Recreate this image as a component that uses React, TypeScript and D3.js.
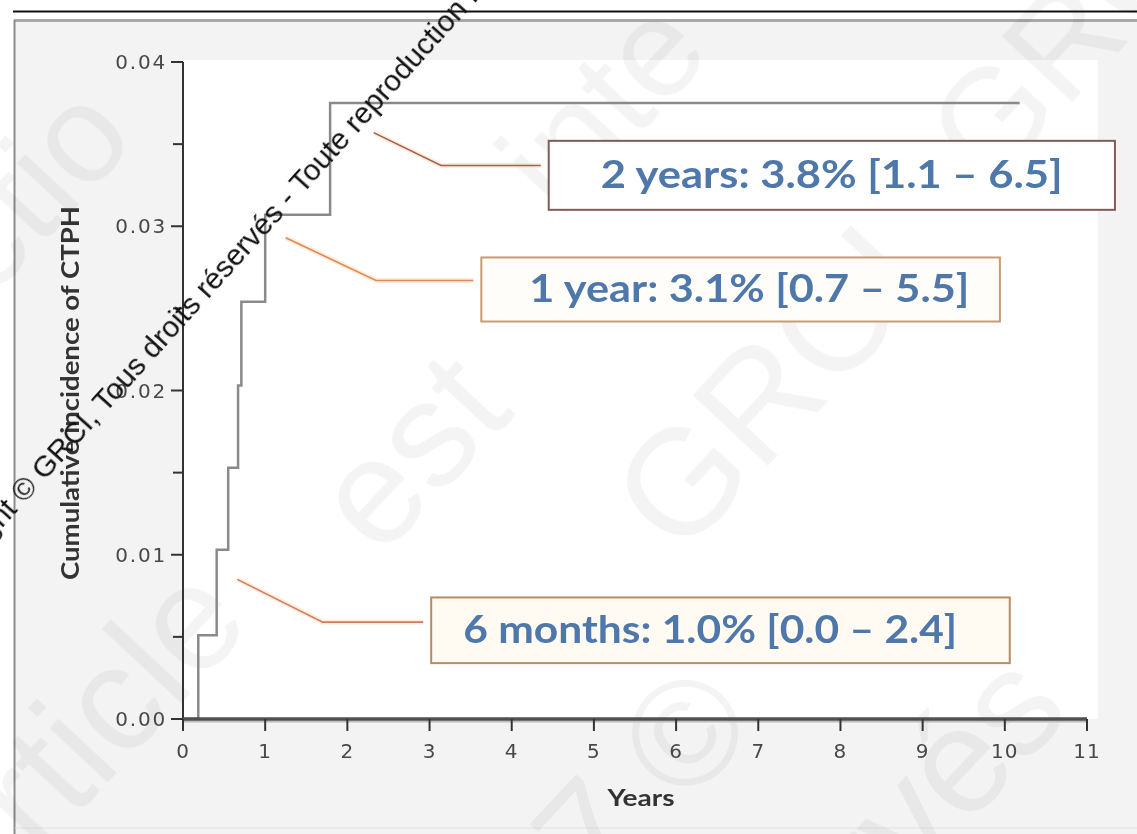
import React, { useEffect } from "react";
import * as d3 from "d3";

// ---------- data ----------
const eventTimes = [0, 0.186, 0.41, 0.55, 0.67, 0.71, 1.0, 1.79, 10.18];
const cumIncidence = [0, 0.0051, 0.0103, 0.0153, 0.0203, 0.0254, 0.0307, 0.0375, 0.0375];
const xTicks = [0, 1, 2, 3, 4, 5, 6, 7, 8, 9, 10, 11];
const yTicks = [0, 0.01, 0.02, 0.03, 0.04];
const yMinorTicks = [0.005, 0.015, 0.025, 0.035];
const calloutLabels = [
  "2 years: 3.8% [1.1 – 6.5]",
  "1 year: 3.1% [0.7 – 5.5]",
  "6 months: 1.0% [0.0 – 2.4]",
];
const xTitle = "Years";
const yTitle = "Cumulative incidence of CTPH";
const watermarkBefore = "Copyright\u00A0";
const watermarkText = "© GRCI, Tous droits réservés - Toute reproduction interdite";

// ---------- layout (callouts in data units) ----------
const W = 1137;
const H = 834;
const plot = { left: 183, right: 1087, top: 62, bottom: 719 };

const callouts = [
  { point: [2.32, 0.0357], elbow: [3.14, 0.0337], box: [4.45, 11.34, 0.0352, 0.0310], textPad: 52, textW: 462, stroke: "#7f5b5b", lead: "#a4604e", fill: "#ffffff" },
  { point: [1.25, 0.0293], elbow: [2.35, 0.0267], box: [3.63, 9.94, 0.0281, 0.0242], textPad: 48, textW: 440, stroke: "#c79c70", lead: "#e08a55", fill: "#fffdf9" },
  { point: [0.66, 0.0085], elbow: [1.70, 0.0059], box: [3.02, 10.06, 0.0074, 0.0034], textPad: 32, textW: 494, stroke: "#bb8a5e", lead: "#d27c60", fill: "#fffaf2" },
];

const faintMarks = [
  { t: "ctio", x: -10, y: 300, s: 140 },
  { t: "inte", x: 560, y: 220, s: 140 },
  { t: "GRC", x: 990, y: 190, s: 140 },
  { t: "Article", x: -30, y: 930, s: 150 },
  { t: "est", x: 380, y: 560, s: 150 },
  { t: "GRCI", x: 680, y: 560, s: 150 },
  { t: "7 ©", x: 600, y: 900, s: 150 },
  { t: "rvés", x: 880, y: 920, s: 150 },
];

export default function App() {
  useEffect(() => {
    document.body.style.margin = "0";
  }, []);

  const x = d3.scaleLinear().domain([0, 11]).range([plot.left, plot.right]);
  const y = d3.scaleLinear().domain([0, 0.04]).range([plot.bottom, plot.top]);

  const pts: [number, number][] = eventTimes.map((t, i) => [t, cumIncidence[i]]);
  const stepPath = d3
    .line<[number, number]>()
    .x((d) => x(d[0]))
    .y((d) => y(d[1]))
    .curve(d3.curveStepAfter)(pts) as string;

  const angle = -47;
  const wmAngle = -48;
  const tickFont = "'DejaVu Sans', Verdana, sans-serif";

  return (
    <svg width={W} height={H} style={{ display: "block" }} xmlns="http://www.w3.org/2000/svg">
      {/* panel */}
      <rect x={0} y={0} width={W} height={H} fill="#ffffff" />
      <rect x={14} y={20} width={W - 14} height={H - 20} fill="#f3f3f3" />
      <rect x={plot.left} y={60} width={1098 - plot.left} height={plot.bottom - 60} fill="#ffffff" />
      <line x1={13} x2={W} y1={11.5} y2={11.5} stroke="#111" strokeWidth={2} />
      <line x1={14} x2={W} y1={20.5} y2={20.5} stroke="#a8a8a8" strokeWidth={3} />
      <line x1={14.5} x2={14.5} y1={20} y2={H} stroke="#8c8c8c" strokeWidth={2} />
      <line x1={15} x2={W} y1={828} y2={828} stroke="#e2e2e2" strokeWidth={1} />

      {/* faint watermark */}
      <g fontFamily="'Liberation Sans', Arial, sans-serif" fill="#000" opacity={0.045}>
        {faintMarks.map((m, i) => (
          <text key={i} x={m.x} y={m.y} fontSize={m.s} transform={`rotate(${angle} ${m.x} ${m.y})`}>
            {m.t}
          </text>
        ))}
      </g>

      {/* curve */}
      <path d={stepPath} fill="none" stroke="#8a8a8a" strokeWidth={2.5} />

      {/* callouts */}
      {callouts.map((c, i) => {
        const bx0 = x(c.box[0]);
        const bx1 = x(c.box[1]);
        const by0 = y(c.box[2]);
        const by1 = y(c.box[3]);
        const d = `M${x(c.point[0])},${y(c.point[1])}L${x(c.elbow[0])},${y(c.elbow[1])}L${bx0 - 8},${y(c.elbow[1])}`;
        return (
          <g key={i}>
            <path d={d} fill="none" stroke="#ffd9b8" strokeOpacity={0.5} strokeWidth={5} />
            <path d={d} fill="none" stroke={c.lead} strokeWidth={1.6} />
            <rect x={bx0} y={by0} width={bx1 - bx0} height={by1 - by0} fill={c.fill} stroke={c.stroke} strokeWidth={2} />
            <text
              x={bx0 + c.textPad}
              y={(by0 + by1) / 2 + 13}
              fontFamily="Lato, 'Open Sans', sans-serif"
              fontWeight={700}
              fontSize={38}
              fill="#4e77aa"
              textLength={c.textW}
              lengthAdjust="spacingAndGlyphs"
            >
              {calloutLabels[i]}
            </text>
          </g>
        );
      })}

      {/* y axis */}
      <line x1={plot.left} x2={plot.left} y1={plot.top} y2={plot.bottom} stroke="#333" strokeWidth={2} />
      {yTicks.map((v) => (
        <g key={"y" + v}>
          <line x1={plot.left - 12} x2={plot.left} y1={y(v)} y2={y(v)} stroke="#333" strokeWidth={2} />
          <text x={plot.left - 16} y={y(v) + 7} textAnchor="end" fontFamily={tickFont} fontSize={20} letterSpacing={1.8} fill="#484848">
            {d3.format(".2f")(v)}
          </text>
        </g>
      ))}
      {yMinorTicks.map((v) => (
        <line key={"ym" + v} x1={plot.left - 10} x2={plot.left} y1={y(v)} y2={y(v)} stroke="#333" strokeWidth={2} />
      ))}

      {/* x axis */}
      <line x1={plot.left} x2={plot.right} y1={plot.bottom + 2.5} y2={plot.bottom + 2.5} stroke="#bdbdbd" strokeWidth={2} />
      <line x1={plot.left} x2={plot.right} y1={plot.bottom} y2={plot.bottom} stroke="#505050" strokeWidth={3.5} />
      {xTicks.map((t) => (
        <g key={"x" + t}>
          <line x1={x(t)} x2={x(t)} y1={plot.bottom} y2={plot.bottom + 12} stroke="#333" strokeWidth={2} />
          <text x={x(t)} y={758} textAnchor="middle" fontFamily={tickFont} fontSize={20} letterSpacing={1} fill="#484848">
            {t}
          </text>
        </g>
      ))}

      {/* titles */}
      <text x={641} y={806} textAnchor="middle" fontFamily="Lato, 'Open Sans', sans-serif" fontWeight={700} fontSize={23} fill="#333" textLength={67} lengthAdjust="spacingAndGlyphs">
        {xTitle}
      </text>
      <text
        x={0}
        y={0}
        transform={`translate(79 ${393}) rotate(-90)`}
        textAnchor="middle"
        fontFamily="Lato, 'Open Sans', sans-serif"
        fontWeight={700}
        fontSize={25}
        fill="#333"
        textLength={374}
        lengthAdjust="spacingAndGlyphs"
      >
        {yTitle}
      </text>

      {/* dark watermark line */}
      <g fontFamily="'Liberation Sans', Arial, sans-serif" fontSize={30} fill="#111">
        <text x={24} y={504} textAnchor="end" transform={`rotate(${wmAngle} 24 504)`}>
          {watermarkBefore}
        </text>
        <text x={24} y={504} transform={`rotate(${wmAngle} 24 504)`}>
          {watermarkText}
        </text>
      </g>
    </svg>
  );
}
